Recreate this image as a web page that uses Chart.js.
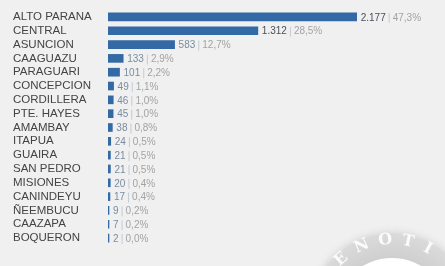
<!DOCTYPE html>
<html>
<head>
<meta charset="utf-8">
<script src="https://cdn.jsdelivr.net/npm/chart.js@4"></script>
<style>
html,body{margin:0;padding:0;background:#f0f0f0;}
#wrap{width:445px;height:266px;position:relative;}
</style>
</head>
<body>
<div id="wrap"><canvas id="chartDptos" width="445" height="266"></canvas></div>
<script>
var departamentos = ["ALTO PARANA","CENTRAL","ASUNCION","CAAGUAZU","PARAGUARI","CONCEPCION","CORDILLERA","PTE. HAYES","AMAMBAY","ITAPUA","GUAIRA","SAN PEDRO","MISIONES","CANINDEYU","ÑEEMBUCU","CAAZAPA","BOQUERON"]
var casos = [2177,1312,583,133,101,49,46,45,38,24,21,21,20,17,9,7,2]
var porcentajes = ["47,3%","28,5%","12,7%","2,9%","2,2%","1,1%","1,0%","1,0%","0,8%","0,5%","0,5%","0,5%","0,4%","0,4%","0,2%","0,2%","0,0%"]

function fmtMiles(n){
	return n.toString().replace(/\B(?=(\d{3})+(?!\d))/g, '.')
}

// etiquetas valor | porcentaje al final de cada barra
var etiquetasPlugin = {
	id: 'etiquetas',
	afterDatasetsDraw: function(chart){
		var ctx = chart.ctx
		var meta = chart.getDatasetMeta(0)
		ctx.save()
		ctx.textBaseline = 'middle'
		ctx.font = '10px "Liberation Sans", Arial, sans-serif'
		meta.data.forEach(function(bar, i){
			var x = bar.x + 4
			var y = bar.y + 1
			var txt = fmtMiles(casos[i])
			ctx.fillStyle = i < 2 ? '#4a4f58' : '#7a8ca0'
			ctx.fillText(txt, x, y)
			x += ctx.measureText(txt).width + 3
			ctx.fillStyle = '#c2ccd6'
			ctx.fillRect(x, y - 5, 1, 10)
			x += 4
			ctx.fillStyle = '#a3a3a3'
			ctx.fillText(porcentajes[i], x, y)
		})
		ctx.restore()
	}
}

// sello de agua abajo a la derecha
var selloPlugin = {
	id: 'sello',
	beforeDraw: function(chart){
		var ctx = chart.ctx
		var cx = 392, cy = 316
		ctx.save()
		var g = ctx.createRadialGradient(cx, cy, 58, cx, cy, 92)
		g.addColorStop(0, '#cfcfcf')
		g.addColorStop(0.7, '#dadada')
		g.addColorStop(1, 'rgba(240,240,240,0)')
		ctx.fillStyle = g
		ctx.beginPath()
		ctx.arc(cx, cy, 92, 0, Math.PI * 2)
		ctx.fill()
		ctx.fillStyle = '#ffffff'
		ctx.beginPath()
		ctx.arc(cx, cy, 58, 0, Math.PI * 2)
		ctx.fill()
		ctx.fillStyle = '#fbfbfb'
		ctx.font = 'bold 16px "DejaVu Serif", serif'
		ctx.textAlign = 'center'
		ctx.textBaseline = 'middle'
		var letras = ['E','N','O','T','I']
		var angs = [-2.3, -1.98, -1.66, -1.36, -1.08]
		letras.forEach(function(l, i){
			ctx.save()
			ctx.translate(cx + Math.cos(angs[i]) * 76, cy + Math.sin(angs[i]) * 76)
			ctx.rotate(angs[i] + Math.PI / 2)
			ctx.fillText(l, 0, 0)
			ctx.restore()
		})
		ctx.restore()
	}
}

new Chart(document.getElementById('chartDptos'), {
	type: 'bar',
	data: {
		labels: departamentos,
		datasets: [{
			data: casos,
			backgroundColor: '#3369a5',
			barThickness: 8,
			minBarLength: 1
		}]
	},
	options: {
		indexAxis: 'y',
		responsive: false,
		animation: false,
		layout: { padding: { left: 13, right: 40, top: 10, bottom: 21 } },
		plugins: {
			legend: { display: false },
			tooltip: { enabled: false }
		},
		scales: {
			x: {
				display: false,
				min: 0,
				max: 2600
			},
			y: {
				grid: { display: false },
				border: { display: false },
				afterFit: function(scale){ scale.width = 95 },
				ticks: {
					autoSkip: false,
					crossAlign: 'far',
					padding: 0,
					color: '#444444',
					font: { family: '"Liberation Sans", Arial, sans-serif', size: 11.5 }
				}
			}
		}
	},
	plugins: [selloPlugin, etiquetasPlugin]
})
</script>
</body>
</html>
